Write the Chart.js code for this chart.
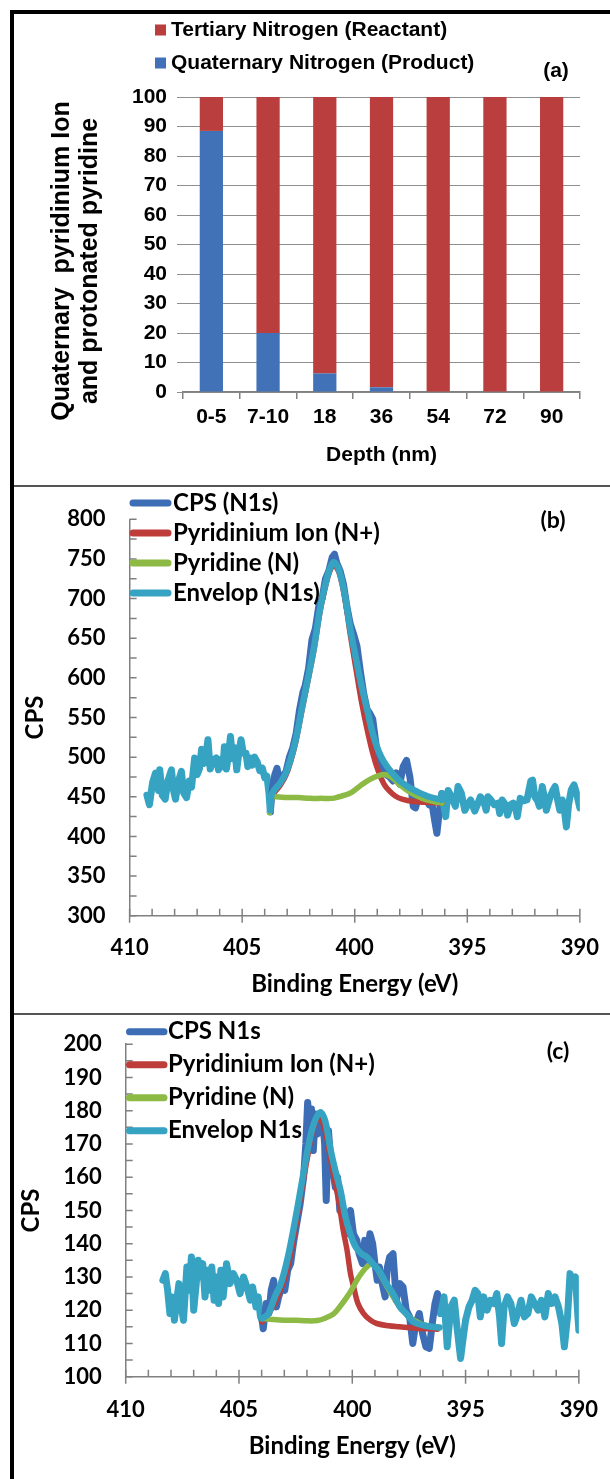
<!DOCTYPE html>
<html><head><meta charset="utf-8">
<script src="https://cdn.jsdelivr.net/npm/chart.js@4.4.1/dist/chart.umd.min.js"></script>
<style>
html,body{margin:0;padding:0;background:#fff}
#wrap{position:relative;width:610px;height:1479px;overflow:hidden;background:#fff}
canvas{position:absolute;left:14px}
.ln{position:absolute}
</style></head>
<body>
<div id="wrap">
<canvas id="ca" width="596" height="470" style="top:15px"></canvas>
<canvas id="cb" width="596" height="524" style="top:488px"></canvas>
<canvas id="cc" width="596" height="464" style="top:1015px"></canvas>
<div class="ln" style="left:10px;top:10px;width:600px;height:4px;background:#000"></div>
<div class="ln" style="left:10px;top:10px;width:4px;height:1469px;background:#000"></div>
<div class="ln" style="left:14px;top:485px;width:596px;height:2px;background:#555"></div>
<div class="ln" style="left:14px;top:1013px;width:596px;height:2px;background:#555"></div>
</div>
<script>
// ---------- Panel (a) data ----------
const depthLabels = ['0-5', '7-10', '18', '36', '54', '72', '90'];
const quaternaryPct = [88.5, 20, 6.3, 1.6, 0, 0, 0];
const tertiaryPct = [11.5, 80, 93.7, 98.4, 100, 100, 100];

// ---------- Panel (b) data: [binding energy eV, CPS] ----------
const bCps = [
 [409.23,452],[409.12,440],[408.98,468],[408.85,480],[408.72,458],[408.66,484],[408.55,452],[408.42,447],[408.3,470],[408.14,484],
 [408.05,458],[407.96,447],[407.85,468],[407.7,482],[407.6,455],[407.47,449],[407.35,470],[407.25,462],[407.11,499],[407.0,478],
 [406.9,485],[406.8,510],[406.7,492],[406.6,505],[406.52,522],[406.42,485],[406.3,496],[406.15,499],[406.05,484],[405.96,497],
 [405.85,488],[405.79,513],[405.7,485],[405.6,505],[405.52,526],[405.42,498],[405.33,512],[405.24,484],[405.15,505],[405.05,522],
 [404.95,505],[404.83,505],[404.75,488],[404.65,499],[404.55,490],[404.45,500],[404.33,494],[404.22,483],[404.1,486],[404.0,474],
 [403.9,476],[403.81,455],
 [403.75,431],[403.65,462],[403.55,478],[403.45,486],[403.35,470],[403.2,476],[403.05,482],[402.9,500],[402.75,512],[402.6,530],
 [402.45,560],[402.3,582],[402.2,590],[402.05,612],[401.9,648],[401.75,662],[401.6,690],[401.45,700],[401.3,725],[401.15,735],
 [401.0,752],[400.9,756],[400.8,745],[400.65,735],[400.5,718],[400.35,690],[400.2,668],[400.05,655],[399.9,640],[399.75,608],
 [399.6,580],[399.45,560],[399.35,556],[399.2,548],[399.05,515],[398.9,498],[398.75,484],[398.6,478],[398.45,475],[398.3,470],
 [398.15,480],[398.0,466],[397.85,488],[397.7,496],[397.55,475],[397.4,438],[397.3,436],[397.15,452],[397.0,446],[396.85,448],
 [396.7,440],[396.55,438],[396.45,420],[396.35,404],[396.25,430],[396.13,454],
 [395.96,425],[395.85,458],[395.7,450],[395.53,438],[395.41,463],[395.27,455],[395.11,433],[394.98,440],[394.85,446],[394.67,432],
 [394.55,440],[394.42,450],[394.28,445],[394.16,433],[394.08,450],[393.95,446],[393.8,440],[393.64,442],[393.56,429],[393.45,446],
 [393.3,440],[393.21,427],[393.08,440],[392.96,442],[392.85,435],[392.78,425],[392.65,448],[392.5,445],[392.35,446],[392.18,470],
 [392.1,471],[392.0,450],[391.88,445],[391.8,438],[391.67,463],[391.58,450],[391.49,433],[391.32,450],[391.2,458],[391.1,463],
 [390.98,445],[390.89,433],[390.78,446],[390.67,429],[390.6,412],[390.5,440],[390.38,459],[390.26,465],[390.15,455],[390.05,442],
 [390.0,436]
];
const bIon = [
 [403.75,447],[403.58,455],[403.3,465],[403.06,477],[402.85,494],[402.62,519],[402.33,561],[402.03,603],[401.8,637],[401.55,682],
 [401.3,715],[401.1,735],[400.92,742],[400.7,733],[400.45,702],[400.2,655],[399.95,612],[399.7,570],[399.45,535],[399.2,505],
 [398.95,482],[398.7,466],[398.45,457],[398.2,451],[397.9,447],[397.4,444],[396.8,443],[396.13,442]
];
const bPyridine = [
 [403.78,430],[403.72,449],[403.5,450],[403.0,449],[402.5,449],[402.0,448],[401.5,448],[401.0,448],[400.7,450],[400.45,452],
 [400.12,456],[399.75,464],[399.38,471],[399.0,476],[398.65,478],[398.3,473],[398.0,465],[397.5,455],[397.0,448],[396.5,444],
 [396.13,442]
];
const bEnvelope = [
 [403.75,433],[403.7,452],[403.58,458],[403.3,468],[403.06,480],[402.85,497],[402.62,522],[402.33,564],[402.03,606],[401.8,640],
 [401.55,685],[401.3,718],[401.1,738],[400.92,746],[400.7,736],[400.45,706],[400.2,662],[399.95,625],[399.7,590],[399.45,560],
 [399.2,530],[398.95,508],[398.7,494],[398.4,482],[398.0,470],[397.6,462],[397.2,456],[396.7,450],[396.13,446]
];
const bFitRange = [396.13, 403.75];

// ---------- Panel (c) data ----------
const cCps = [
 [408.36,129],[408.25,131],[408.15,126],[408.05,119],[407.95,124],[407.85,117],[407.75,123],[407.65,128],[407.55,121],[407.45,117],
 [407.3,133],[407.2,126],[407.1,136],[407.0,120],[406.9,127],[406.8,135],[406.7,130],[406.6,134],[406.5,124],[406.4,132],
 [406.3,126],[406.2,133],[406.1,123],[406.0,130],[405.9,122],[405.8,132],[405.7,124],[405.55,134],[405.4,128],[405.25,131],
 [405.1,129],[404.95,125],[404.8,130],[404.65,127],[404.5,123],[404.4,127],[404.25,121],[404.15,124],[404.05,118],
 [403.98,117],[403.93,114.4],[403.8,122],[403.68,119],[403.58,126],[403.47,129],[403.35,121],[403.25,124],[403.1,127],[402.98,126],
 [402.85,132],[402.72,134],[402.6,140],[402.45,146],[402.3,152],[402.15,160],[402.05,170],[401.97,182.5],[401.88,176],[401.8,180.5],
 [401.72,168],[401.63,179],[401.52,173],[401.42,179],[401.3,177],[401.22,170],[401.15,153],[401.05,174],[400.95,165],[400.85,162],
 [400.75,157],[400.65,160],[400.55,150],[400.45,149],[400.37,147],[400.25,143],[400.15,147],[400.08,150],[399.95,143],[399.8,141],
 [399.7,137],[399.55,134],[399.45,141],[399.36,135],[399.22,143],[399.1,140],[399.0,134],[398.9,129],[398.8,133],[398.68,128],
 [398.55,124],[398.45,133],[398.35,136],[398.2,137],[398.06,123],[397.9,128],[397.76,127],[397.62,120],[397.47,118],[397.33,110],
 [397.2,116],[397.04,119],[396.9,113],[396.75,109],[396.6,108.5],[396.45,117],[396.35,122],[396.24,125],[396.1,119],
 [395.95,124],[395.81,109],[395.65,121],[395.5,123],[395.38,115],[395.22,105.5],[395.1,112],[395.0,117],[394.85,121],[394.71,123],
 [394.58,126],[394.46,125],[394.35,118],[394.2,124],[394.05,120],[393.9,123],[393.75,122],[393.62,125],[393.5,118],[393.41,110],
 [393.3,121],[393.15,124],[393.0,122],[392.85,116],[392.7,119],[392.55,123],[392.4,118],[392.25,119],[392.1,124],[391.95,122],
 [391.8,120],[391.65,123],[391.5,118],[391.35,125],[391.2,122],[391.05,124],[390.9,121],[390.75,116],[390.64,109],[390.5,118],
 [390.39,131],[390.28,128],[390.15,130],[390.05,119],[390.0,114]
];
const cIon = [
 [403.98,116.5],[403.42,122],[402.84,133],[402.26,155],[401.95,167],[401.7,175],[401.46,178],[401.2,174],[400.95,165],[400.75,158],
 [400.59,152.5],[400.4,144],[400.23,138],[400.08,131],[399.94,127],[399.75,122],[399.5,119],[399.2,117],[398.92,116],[398.4,115.3],
 [397.91,115],[397.2,114.6],[396.24,114.3]
];
const cPyridine = [
 [404.0,117.5],[403.5,117.2],[403.0,117],[402.5,117],[402.0,116.8],[401.54,116.9],[401.2,117.6],[400.81,119],[400.5,121.5],[400.23,124],
 [400.0,126.5],[399.8,129],[399.55,131.5],[399.36,133],[399.14,134],[398.95,133],[398.78,131],[398.5,127.5],[398.2,124],[397.9,121],
 [397.5,118],[397.0,116],[396.5,115],[396.2,114.8]
];
const cEnvelope = [
 [403.98,117.5],[403.7,119],[403.42,124],[403.15,128],[402.84,136],[402.55,146],[402.26,157],[401.95,169],[401.7,176],[401.42,179.5],
 [401.2,177],[400.95,168],[400.75,162],[400.52,156],[400.3,148],[400.09,143],[399.85,139],[399.6,137],[399.36,136],[399.1,134],
 [398.78,131.5],[398.5,128],[398.2,125],[397.9,121],[397.62,119],[397.3,116.5],[396.9,115.5],[396.5,115],[396.15,114.8]
];
const cFitRange = [396.1, 403.98];

// ---------- styling ----------
const BLUE_A = '#4171B7', RED_A = '#BA3E3D';
const DARK = '#3D6DB4', RED = '#BE3D3A', GREEN = '#8CBA45', LIGHT = '#36A3C2';
const AXIS = '#808080';
const fontA = {family: "'Liberation Sans', Arial, sans-serif", size: 21, weight: 'bold'};
const fontT = {family: "Lato, 'Open Sans', sans-serif", size: 22, weight: 'bold'};
const fontL = {family: "Lato, 'Open Sans', sans-serif", size: 24, weight: 'bold'};

const pts = arr => arr.map(p => ({x: p[0], y: p[1]}));

const deco = {
  id: 'deco',
  beforeDatasetsDraw(chart, args, o) {
    if (!o.minorTicks) return;
    const ctx = chart.ctx, xs = chart.scales.x, ys = chart.scales.y, L = o.minorTicks.len;
    ctx.save();
    ctx.strokeStyle = AXIS; ctx.lineWidth = 1.5;
    ctx.beginPath();
    xs.ticks.forEach(t => {
      const px = xs.getPixelForValue(t.value);
      ctx.moveTo(px, xs.top - L);
      ctx.lineTo(px, xs.top + (t.value % 5 === 0 ? L : 0));
    });
    ys.ticks.forEach(t => {
      const py = ys.getPixelForValue(t.value);
      ctx.moveTo(ys.right, py);
      ctx.lineTo(ys.right + L, py);
    });
    ctx.stroke();
    ctx.restore();
  },
  afterDraw(chart, args, o) {
    const ctx = chart.ctx;
    ctx.save();
    ctx.fillStyle = '#000';
    ctx.textBaseline = 'middle';
    if (o.legend) {
      const lg = o.legend;
      ctx.font = lg.font;
      lg.order.forEach((di, k) => {
        const ds = chart.data.datasets[di];
        const y = lg.y0 + k * lg.dy;
        if (lg.kind === 'square') {
          ctx.fillStyle = ds.backgroundColor;
          ctx.fillRect(lg.x, y - 5.5, 11, 11);
        } else {
          ctx.strokeStyle = ds.legendColor || ds.borderColor;
          ctx.lineWidth = 7; ctx.lineCap = 'round';
          ctx.beginPath(); ctx.moveTo(lg.x + 3, y); ctx.lineTo(lg.x2 - 3, y); ctx.stroke();
        }
        ctx.fillStyle = '#000';
        ctx.textAlign = 'left';
        ctx.fillText(ds.label, lg.tx, y);
      });
    }
    if (o.tag) {
      ctx.font = o.tag.font; ctx.textAlign = 'center'; ctx.fillStyle = '#000';
      ctx.fillText(o.tag.text, o.tag.x, o.tag.y);
    }
    if (o.yTitle) {
      const t = o.yTitle;
      ctx.font = t.font; ctx.textAlign = 'center'; ctx.fillStyle = '#000';
      t.lines.forEach((line, i) => {
        ctx.save();
        ctx.translate(t.xs[i], t.y);
        ctx.rotate(-Math.PI / 2);
        ctx.fillText(line, 0, 0);
        ctx.restore();
      });
    }
    ctx.restore();
  }
};

// ---------- Chart (a) ----------
new Chart(document.getElementById('ca'), {
  type: 'bar',
  data: {
    labels: depthLabels,
    datasets: [
      {label: 'Quaternary Nitrogen (Product)', data: quaternaryPct, backgroundColor: BLUE_A, barPercentage: 0.41, categoryPercentage: 1, borderWidth: 0},
      {label: 'Tertiary Nitrogen (Reactant)', data: tertiaryPct, backgroundColor: RED_A, barPercentage: 0.41, categoryPercentage: 1, borderWidth: 0}
    ]
  },
  options: {
    responsive: false, animation: false, devicePixelRatio: 1,
    layout: {padding: {top: 82, right: 30, bottom: 0, left: 0}},
    plugins: {
      legend: {display: false}, tooltip: {enabled: false},
      deco: {
        legend: {kind: 'square', order: [1, 0], x: 141, tx: 157, y0: 15, dy: 33, font: "bold 21px 'Liberation Sans', Arial, sans-serif"},
        tag: {text: '(a)', x: 542, y: 56, font: "bold 21px 'Liberation Sans', Arial, sans-serif"},
        yTitle: {lines: ['Quaternary  pyridinium Ion', 'and protonated pyridine'], xs: [48, 76], y: 246, font: "bold 25px 'Liberation Sans', Arial, sans-serif"}
      }
    },
    scales: {
      x: {
        stacked: true,
        afterFit: s => { s.height = 93; },
        grid: {drawOnChartArea: false, tickLength: 7, color: AXIS, lineWidth: 1.5},
        border: {display: true, color: AXIS, width: 1.5},
        ticks: {font: fontA, color: '#000', padding: 6, maxRotation: 0, autoSkip: false},
        title: {display: true, text: 'Depth (nm)', font: fontA, color: '#000', padding: {top: 0, bottom: 17}}
      },
      y: {
        stacked: true, min: 0, max: 100,
        afterFit: s => { s.width = 169; },
        ticks: {stepSize: 10, font: fontA, color: '#000', padding: 10},
        grid: {color: '#8e8e8e', lineWidth: 1, tickLength: 6},
        border: {display: false}
      }
    }
  },
  plugins: [deco]
});

// ---------- line chart builder ----------
function xpsChart(id, o) {
  const inFit = x => x >= o.fit[0] - 1e-6 && x <= o.fit[1] + 1e-6;
  const common = {pointRadius: 0, fill: false, borderJoinStyle: 'round', borderCapStyle: 'round'};
  return new Chart(document.getElementById(id), {
    type: 'line',
    data: {
      datasets: [
        Object.assign({}, common, {label: o.labels[0], data: pts(o.cps), borderColor: DARK, legendColor: DARK, borderWidth: 7, tension: 0, order: 4,
          segment: {borderColor: c => (inFit(c.p0.parsed.x) && inFit(c.p1.parsed.x)) ? DARK : LIGHT}}),
        Object.assign({}, common, {label: o.labels[1], data: pts(o.ion), borderColor: RED, borderWidth: 5.5, tension: 0.35, order: 3}),
        Object.assign({}, common, {label: o.labels[2], data: pts(o.pyr), borderColor: GREEN, borderWidth: 5.5, tension: 0.35, order: 2}),
        Object.assign({}, common, {label: o.labels[3], data: pts(o.env), borderColor: LIGHT, borderWidth: 6.5, tension: 0.35, order: 1})
      ]
    },
    options: {
      responsive: false, animation: false, devicePixelRatio: 1,
      layout: {padding: {top: o.top, right: o.right, bottom: 0, left: 0}},
      plugins: {
        legend: {display: false}, tooltip: {enabled: false},
        deco: {
          minorTicks: {len: 7},
          legend: {kind: 'line', order: [0, 1, 2, 3], x: o.lgx, x2: o.lgx2, tx: o.lgtx, y0: o.lgy0, dy: o.lgdy, font: "bold 24px Lato, 'Open Sans', sans-serif"},
          tag: {text: o.tag, x: o.tagx, y: o.tagy, font: "bold 23px Lato, 'Open Sans', sans-serif"}
        }
      },
      scales: {
        x: {
          type: 'linear', min: 390, max: 410, reverse: true,
          afterFit: s => { s.height = o.xh; },
          ticks: {stepSize: 1, autoSkip: false, maxRotation: 0, font: fontT, color: '#000', padding: o.xpad,
            callback: v => (v % 5 === 0 ? String(v) : '')},
          grid: {display: true, drawOnChartArea: false, drawTicks: true, tickLength: 8, color: 'rgba(0,0,0,0)'},
          border: {display: true, color: AXIS, width: 1.5},
          title: {display: true, text: 'Binding Energy (eV)', font: fontL, color: '#000', padding: {top: 0, bottom: o.xtb}}
        },
        y: {
          min: o.ymin, max: o.ymax,
          afterFit: s => { s.width = o.yw; },
          ticks: {stepSize: o.ystep, autoSkip: false, font: fontT, color: '#000', padding: 16,
            callback: v => (v % o.ylab === 0 ? String(v) : '')},
          grid: {display: true, drawOnChartArea: false, drawTicks: true, tickLength: 8, color: 'rgba(0,0,0,0)'},
          border: {display: true, color: AXIS, width: 1.5},
          title: {display: true, text: 'CPS', font: fontL, color: '#000', padding: {top: o.ytp, bottom: 0}}
        }
      }
    },
    plugins: [deco]
  });
}

xpsChart('cb', {
  labels: ['CPS (N1s)', 'Pyridinium Ion (N+)', 'Pyridine (N)', 'Envelop (N1s)'],
  cps: bCps, ion: bIon, pyr: bPyridine, env: bEnvelope, fit: bFitRange,
  top: 31.3, right: 27.5, xh: 96.3, yw: 115.6, xpad: 11, xtb: 13.6, ytp: 6.6,
  ymin: 300, ymax: 800, ystep: 25, ylab: 50,
  lgx: 116, lgx2: 157, lgtx: 159, lgy0: 15, lgdy: 30,
  tag: '(b)', tagx: 539, tagy: 33
});

xpsChart('cc', {
  labels: ['CPS N1s', 'Pyridinium Ion (N+)', 'Pyridine (N)', 'Envelop N1s'],
  cps: cCps, ion: cIon, pyr: cPyridine, env: cEnvelope, fit: cFitRange,
  top: 26.7, right: 25.2, xh: 102.3, yw: 111.7, xpad: 12, xtb: 17.9, ytp: 2.6,
  ymin: 100, ymax: 200, ystep: 5, ylab: 10,
  lgx: 112.5, lgx2: 153, lgtx: 154, lgy0: 16.7, lgdy: 33,
  tag: '(c)', tagx: 544, tagy: 37
});
</script>
</body></html>
